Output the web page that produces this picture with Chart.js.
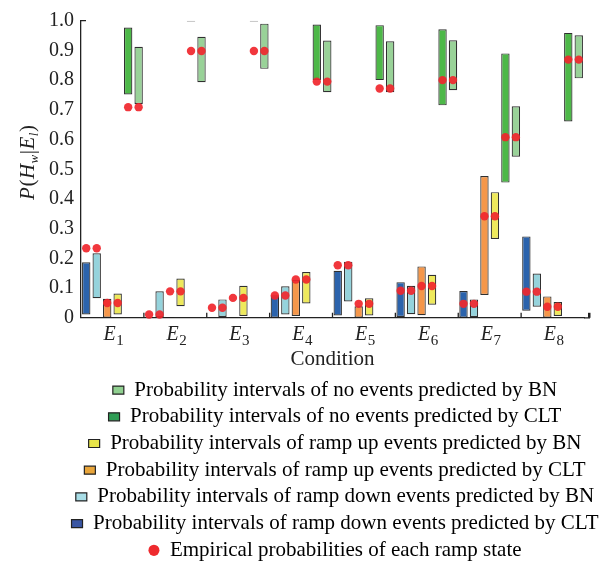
<!DOCTYPE html>
<html>
<head>
<meta charset="utf-8">
<script src="https://cdn.jsdelivr.net/npm/chart.js@4.4.0/dist/chart.umd.min.js"></script>
<style>
  html, body { margin: 0; padding: 0; background: #fff; }
  #wrap { width: 613px; height: 564px; }
</style>
</head>
<body>
<div id="wrap"><canvas id="chart"></canvas></div>
<script>
// conditions (drawn as E with a subscript)
const conditions = ['E1', 'E2', 'E3', 'E4', 'E5', 'E6', 'E7', 'E8']

// probability intervals [low, high]
const downCLT = [[0.011, 0.187], [0, 0.003], [0, 0.003], [0, 0.076], [0.008, 0.158], [0.003, 0.120], [0, 0.090], [0.024, 0.274]]
const downBN  = [[0.066, 0.217], [0.003, 0.089], [0.003, 0.062], [0.011, 0.106], [0.055, 0.189], [0.012, 0.108], [0.003, 0.062], [0.037, 0.149]]
const upCLT   = [[0, 0.064], [0, 0.003], [0, 0.003], [0.006, 0.127], [0, 0.039], [0.009, 0.173], [0.077, 0.477], [0, 0.072]]
const upBN    = [[0.011, 0.082], [0.039, 0.132], [0.006, 0.108], [0.048, 0.154], [0.008, 0.066], [0.044, 0.145], [0.265, 0.423], [0.006, 0.053]]
const noCLT   = [[0.752, 0.977], [0.997, 1], [0.997, 1], [0.800, 0.987], [0.800, 0.985], [0.715, 0.971], [0.455, 0.890], [0.661, 0.959]]
const noBN    = [[0.720, 0.912], [0.793, 0.946], [0.838, 0.990], [0.759, 0.933], [0.759, 0.931], [0.766, 0.934], [0.542, 0.712], [0.806, 0.951]]

// empirical probabilities
const empDown = [0.234, 0.011, 0.034, 0.075, 0.177, 0.091, 0.047, 0.088]
const empUp   = [0.050, 0.089, 0.067, 0.129, 0.047, 0.107, 0.342, 0.037]
const empNo   = [0.709, 0.898, 0.898, 0.795, 0.772, 0.800, 0.608, 0.869]

const seriesLabels = [
    'Probability intervals of ramp down events predicted by CLT',
    'Probability intervals of ramp down events predicted by BN',
    'Probability intervals of ramp up events predicted by CLT',
    'Probability intervals of ramp up events predicted by BN',
    'Probability intervals of no events predicted by CLT',
    'Probability intervals of no events predicted by BN'
]
const dotLabel = 'Empirical probabilities of each ramp state'

const barColors = ['#2b63ac', '#95d3dc', '#f5974a', '#eee95c', '#4db848', '#99d298']
const legendColors = ['#3a56a3', '#a8dde6', '#e9a53a', '#e8e54a', '#2f9d55', '#90d090']
const seriesData = [downCLT, downBN, upCLT, upBN, noCLT, noBN]
const seriesEmp = [empDown, empDown, empUp, empUp, empNo, empNo]
const legendOrder = [5, 4, 3, 2, 1, 0]

const FONT = "'Liberation Serif', 'Times New Roman', serif"

const decorations = {
    id: 'decorations',
    afterDatasetsDraw(chart) {
        const { ctx, scales: { y } } = chart
        ctx.save()
        ctx.fillStyle = 'rgba(240, 38, 44, 0.92)'
        seriesEmp.forEach((vals, di) => {
            chart.getDatasetMeta(di).data.forEach((bar, j) => {
                ctx.beginPath()
                ctx.arc(bar.x, y.getPixelForValue(vals[j]), 4.2, 0, Math.PI * 2)
                ctx.fill()
            })
        })
        ctx.restore()
    },
    afterDraw(chart) {
        const { ctx, chartArea: area, scales: { x, y } } = chart
        ctx.save()
        ctx.strokeStyle = '#222'
        ctx.fillStyle = '#222'

        // axis runs a bit past the last category, with tick marks between categories
        ctx.lineWidth = 1.3
        ctx.beginPath()
        ctx.moveTo(area.right, area.bottom)
        ctx.lineTo(area.right + 6, area.bottom)
        for (let i = 1; i < conditions.length; i++) {
            const bx = (x.getPixelForValue(i - 1) + x.getPixelForValue(i)) / 2
            ctx.moveTo(bx, area.bottom)
            ctx.lineTo(bx, area.bottom - 5)
        }
        ctx.moveTo(area.left, area.top)
        ctx.lineTo(area.left + 5, area.top)
        ctx.stroke()
        ctx.fillRect(area.right + 4, area.bottom - 5, 2.5, 5)

        // y tick labels (the scale box is narrow, so they are drawn here)
        ctx.font = '20px ' + FONT
        ctx.textAlign = 'right'
        ctx.textBaseline = 'middle'
        y.ticks.forEach(t => {
            const v = t.value
            ctx.fillText(v === 0 ? '0' : v.toFixed(1), area.left - 7, y.getPixelForValue(v))
        })
        ctx.textAlign = 'left'

        // category labels E with subscripts
        ctx.textBaseline = 'alphabetic'
        conditions.forEach((lab, i) => {
            const cx = x.getPixelForValue(i)
            ctx.font = 'italic 20px ' + FONT
            const wE = ctx.measureText(lab[0]).width
            ctx.font = '15px ' + FONT
            const wS = ctx.measureText(lab.slice(1)).width
            const x0 = cx - (wE + wS) / 2 + 1
            ctx.font = 'italic 20px ' + FONT
            ctx.fillText(lab[0], x0, area.bottom + 22.5)
            ctx.font = '15px ' + FONT
            ctx.fillText(lab.slice(1), x0 + wE + 0.5, area.bottom + 27.5)
        })

        // y axis title P(H_w|E_l)
        ctx.translate(34, (area.top + area.bottom) / 2 - 7)
        ctx.rotate(-Math.PI / 2)
        const parts = [
            ['P', 'italic 21px', 0], ['(', '21px', 0], ['H', 'italic 21px', 0], ['w', 'italic 13px', 4],
            ['|', '21px', 0], ['E', 'italic 21px', 0], ['l', 'italic 13px', 4], [')', '21px', 0]
        ]
        let total = 0
        parts.forEach(p => { ctx.font = p[1] + ' ' + FONT; total += ctx.measureText(p[0]).width + 0.5 })
        let px = -total / 2
        parts.forEach(p => {
            ctx.font = p[1] + ' ' + FONT
            ctx.fillText(p[0], px, p[2])
            px += ctx.measureText(p[0]).width + 0.5
        })
        ctx.restore()
    }
}

new Chart(document.getElementById('chart'), {
    type: 'bar',
    data: {
        labels: conditions,
        datasets: seriesData.map((d, i) => ({
            label: seriesLabels[i],
            data: d,
            backgroundColor: barColors[i],
            borderColor: 'rgba(25, 25, 25, 0.9)',
            borderWidth: 1.2,
            borderSkipped: false,
            categoryPercentage: 1.0,
            barPercentage: 0.8
        }))
    },
    options: {
        responsive: true,
        maintainAspectRatio: false,
        animation: false,
        layout: {
            // left padding shifts the centred legend under the plot
            padding: { top: 20.7, left: 57, right: 0, bottom: -6.8 }
        },
        scales: {
            x: {
                grid: { display: false, drawTicks: false },
                border: { display: true, color: '#222', width: 1.3 },
                ticks: { display: false },
                title: {
                    display: true,
                    text: 'Condition',
                    color: '#222',
                    font: { family: FONT, size: 21 },
                    padding: { top: 0, bottom: 2 }
                },
                afterFit(scale) { scale.height = 56.1 }
            },
            y: {
                min: 0,
                max: 1,
                grid: { display: false, drawTicks: false },
                border: { display: true, color: '#222', width: 1.3 },
                ticks: { stepSize: 0.1, display: false },
                afterFit(scale) { scale.width = 24 }
            },
            // empty right axis, only keeps room on the right of the plot
            yRight: {
                position: 'right',
                min: 0,
                max: 1,
                grid: { display: false, drawTicks: false },
                border: { display: false },
                ticks: { display: false },
                afterFit(scale) { scale.width = 29 }
            }
        },
        plugins: {
            tooltip: { enabled: false },
            legend: {
                position: 'bottom',
                onClick: null,
                labels: {
                    color: '#222',
                    font: { family: FONT, size: 21 },
                    usePointStyle: true,
                    pointStyleWidth: 11,
                    boxHeight: 8,
                    padding: 5.7,
                    generateLabels(chart) {
                        const items = legendOrder.map(i => ({
                            text: chart.data.datasets[i].label,
                            fillStyle: legendColors[i],
                            strokeStyle: '#222',
                            lineWidth: 1.2,
                            pointStyle: 'rect',
                            hidden: false,
                            datasetIndex: i
                        }))
                        items.push({
                            text: dotLabel,
                            fillStyle: '#ee2a2e',
                            strokeStyle: '#ee2a2e',
                            lineWidth: 0,
                            pointStyle: 'circle',
                            hidden: false
                        })
                        return items
                    }
                }
            }
        }
    },
    plugins: [decorations]
})
</script>
</body>
</html>
